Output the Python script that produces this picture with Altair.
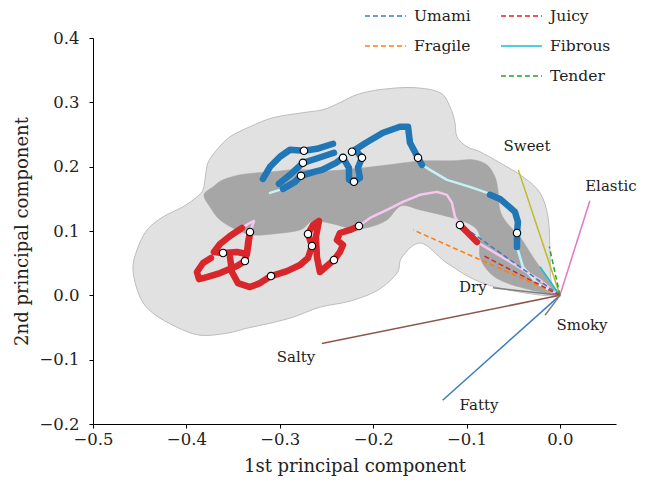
import altair as alt
import pandas as pd

# ---------------- data ----------------
# light grey cloud outline (PC1, PC2)
light_x = [-0.4572, -0.4529, -0.4422, -0.4251, -0.4037, -0.3887, -0.3822, -0.3801, -0.3769, -0.3673,
           -0.3533, -0.3319, -0.3073, -0.2752, -0.2538, -0.2356, -0.2174, -0.1927, -0.1574, -0.1285,
           -0.1178, -0.1124, -0.1103, -0.0996, -0.0857, -0.0642, -0.0396, -0.0214, -0.0128, -0.0107,
           -0.0096, -0.0032, -0.0428, -0.0857, -0.1210, -0.1488, -0.1692, -0.1745, -0.1949, -0.2248,
           -0.2570, -0.2859, -0.3105, -0.3351, -0.3565, -0.3854, -0.4101, -0.4358, -0.4497]
light_y = [0.0393, 0.0704, 0.1016, 0.1219, 0.1375, 0.1530, 0.1639, 0.1795, 0.2060, 0.2263,
           0.2465, 0.2621, 0.2761, 0.2839, 0.2886, 0.2995, 0.3120, 0.3198, 0.3229, 0.3151,
           0.2933, 0.2684, 0.2465, 0.2310, 0.2232, 0.2060, 0.1842, 0.1593, 0.1219, 0.0704,
           0.0237, 0.0003, 0.0050, 0.0206, 0.0502, 0.0813, 0.0595, 0.0346, 0.0081, -0.0090,
           -0.0184, -0.0340, -0.0433, -0.0511, -0.0589, -0.0620, -0.0496, -0.0277, -0.0028]

# dark grey band outline
dark_x = [-0.3812, -0.3747, -0.3640, -0.3458, -0.3287, -0.3073, -0.2784, -0.2645, -0.2430, -0.2216,
          -0.2034, -0.1852, -0.1702, -0.1499, -0.1146, -0.0932, -0.0857, -0.0857, -0.0749, -0.0567,
          -0.0214, -0.0021, -0.0043, -0.0139, -0.0289, -0.0428, -0.0567, -0.0642, -0.0664, -0.0696,
          -0.0782, -0.0932, -0.1146, -0.1467, -0.1745, -0.2109, -0.2463, -0.2720, -0.2891, -0.3073,
          -0.3244, -0.3426, -0.3608, -0.3715]
dark_y = [0.1562, 0.1375, 0.1172, 0.1016, 0.0938, 0.0954, 0.1016, 0.1156, 0.1110, 0.1032,
          0.1063, 0.1172, 0.1390, 0.1328, 0.1203, 0.1078, 0.0907, 0.0595, 0.0346, 0.0190,
          0.0050, 0.0003, 0.0081, 0.0284, 0.0595, 0.0907, 0.1125, 0.1328, 0.1639, 0.1842,
          0.2029, 0.2107, 0.2091, 0.2091, 0.2045, 0.1982, 0.1936, 0.1951, 0.1951, 0.1920,
          0.1904, 0.1873, 0.1795, 0.1686]

# blue trajectory (thick parts), segment id
blue_x = [-0.3180, -0.3105, -0.2998, -0.2891, -0.2741, -0.2602, -0.2430,
          -0.3009, -0.2891, -0.2752, -0.2613, -0.2420,
          -0.2966, -0.2837, -0.2773, -0.2634, -0.2548, -0.2398, -0.2323, -0.2259, -0.2259, -0.2206,
          -0.2141, -0.2163, -0.2120, -0.2173, -0.2227, -0.2077, -0.1895, -0.1713, -0.1627, -0.1606,
          -0.1520, -0.1478,
          -0.0749, -0.0642, -0.0567, -0.0482, -0.0450, -0.0460, -0.0460]
blue_y = [0.1811, 0.1998, 0.2154, 0.2263, 0.2247, 0.2278, 0.2356,
          0.1733, 0.1873, 0.2060, 0.2123, 0.2216,
          0.1655, 0.1764, 0.1858, 0.1920, 0.1951, 0.2060, 0.2138, 0.1982, 0.1795, 0.1764,
          0.1826, 0.1982, 0.2138, 0.2232, 0.2232, 0.2372, 0.2528, 0.2621, 0.2621, 0.2372,
          0.2138, 0.2029,
          0.1562, 0.1499, 0.1406, 0.1297, 0.1141, 0.0969, 0.0751]
blue_seg = [1] * 7 + [2] * 5 + [3] * 22 + [4] * 7

# thin light-cyan continuation of the blue trajectory
cyan_x = [-0.3105, -0.2966, -0.2773, -0.2548, -0.2398, -0.2323, -0.2227, -0.2077, -0.1895, -0.1713,
          -0.1627, -0.1606, -0.1520, -0.1478, -0.1392, -0.1210, -0.0964, -0.0749, -0.0642, -0.0567,
          -0.0482, -0.0450, -0.0460, -0.0460, -0.0396, -0.0246, -0.0032, 0.0]
cyan_y = [0.1593, 0.1655, 0.1858, 0.1951, 0.2060, 0.2138, 0.2232, 0.2372, 0.2528, 0.2621,
          0.2621, 0.2372, 0.2138, 0.2029, 0.1951, 0.1795, 0.1686, 0.1577, 0.1499, 0.1406,
          0.1297, 0.1141, 0.0969, 0.0751, 0.0439, 0.0190, 0.0019, 0.0]

# red trajectory (thick parts)
red_x = [-0.3405, -0.3533, -0.3640, -0.3705, -0.3608, -0.3458, -0.3351, -0.3340, -0.3319,
         -0.3319, -0.3340, -0.3373, -0.3458, -0.3640, -0.3780, -0.3865, -0.3887, -0.3822, -0.3737,
         -0.3533, -0.3512, -0.3448, -0.3319, -0.3212, -0.3094, -0.2923, -0.2784, -0.2698, -0.2655,
         -0.2698, -0.2645, -0.2580, -0.2613, -0.2602, -0.2570, -0.2484, -0.2420, -0.2356, -0.2323,
         -0.2388, -0.2356, -0.2248, -0.2152,
         -0.1071, -0.0985, -0.0889]
red_y = [0.1047, 0.0923, 0.0798, 0.0673, 0.0658, 0.0673, 0.0642, 0.0813, 0.0985,
         0.0985, 0.0751, 0.0533, 0.0455, 0.0346, 0.0284, 0.0252, 0.0362, 0.0502, 0.0580,
         0.0595, 0.0362, 0.0190, 0.0128, 0.0190, 0.0299, 0.0377, 0.0471, 0.0580, 0.0767,
         0.0954, 0.1094, 0.1156, 0.0907, 0.0595, 0.0362, 0.0471, 0.0549, 0.0673, 0.0782,
         0.0860, 0.0969, 0.1016, 0.1078,
         0.1094, 0.0969, 0.0829]
red_seg = [1] * 9 + [2] * 10 + [3] * 24 + [4] * 3

# thin pink continuation of the red trajectory
pink_x = [-0.3405, -0.3340, -0.3276, -0.3319,
          -0.2152, -0.2034, -0.1852, -0.1681, -0.1499, -0.1317, -0.1210, -0.1156, -0.1124, -0.1071,
          -0.0985, -0.0889, -0.0567, -0.0214, -0.0032, 0.0]
pink_y = [0.1047, 0.1110, 0.1156, 0.0985,
          0.1078, 0.1203, 0.1328, 0.1452, 0.1562, 0.1608, 0.1562, 0.1437, 0.1219, 0.1094,
          0.0969, 0.0829, 0.0549, 0.0237, 0.0019, 0.0]
pink_seg = [1] * 4 + [2] * 16

# sampled time points (white circles)
pts_x = [-0.2741, -0.2752, -0.2773, -0.2323, -0.2227, -0.2120, -0.2206, -0.1520, -0.0460,
         -0.3319, -0.3608, -0.3373, -0.3094, -0.2698, -0.2655, -0.2420, -0.2152, -0.1071]
pts_y = [0.2247, 0.2060, 0.1858, 0.2138, 0.2232, 0.2138, 0.1764, 0.2138, 0.0969,
         0.0985, 0.0658, 0.0533, 0.0299, 0.0954, 0.0767, 0.0549, 0.1078, 0.1094]

# loading vectors (end points; all start at the origin)
vec_names = ["Sweet", "Elastic", "Dry", "Salty", "Fatty", "Smoky", "Other",
             "Umami", "Fragile", "Juicy", "Fibrous", "Tender"]
vec_x = [-0.0446, 0.0320, -0.0717, -0.2550, -0.1256, -0.0160, -0.0080,
         -0.0985, -0.1570, -0.0830, -0.0214, -0.0114]
vec_y = [0.1950, 0.1470, 0.0117, -0.0750, -0.1630, -0.0310, 0.0030,
         0.1016, 0.1016, 0.0625, 0.0444, 0.0756]
vec_colors = ["#bcbd22", "#e377c2", "#7f7f7f", "#8c564b", "#3a7ebf", "#7f7f7f", "#9467bd",
              "#3a7ebf", "#ff7f0e", "#d62728", "#17becf", "#2ca02c"]
vec_dashed = [False, False, False, False, False, False, False,
              True, True, True, False, True]

# text labels of the loading vectors
lab_names = ["Sweet", "Elastic", "Dry", "Salty", "Fatty", "Smoky"]
lab_x = [-0.0353, 0.0546, -0.0932, -0.2827, -0.0867, 0.0236]
lab_y = [0.2325, 0.1702, 0.0128, -0.0963, -0.1711, -0.0464]

# legend
legend_labels = ["Umami", "Fragile", "Juicy", "Fibrous", "Tender"]
legend_colors = ["#3a7ebf", "#ff7f0e", "#d62728", "#17becf", "#2ca02c"]
legend_dashed = [True, True, True, False, True]
legend_col = [0, 0, 1, 1, 1]
legend_row = [0, 1, 0, 1, 2]

x_ticks = [-0.5, -0.4, -0.3, -0.2, -0.1, 0.0]
y_ticks = [-0.2, -0.1, 0.0, 0.1, 0.2, 0.3, 0.4]

# ---------------- chart ----------------
FONT = "DejaVu Serif"
W, H = 523, 386

xs = alt.Scale(domain=[-0.5, 0.06], nice=False, zero=False)
ys = alt.Scale(domain=[-0.2, 0.4], nice=False, zero=False)
X = alt.X("x:Q", scale=xs, axis=alt.Axis(values=x_ticks, format=".1f", title="1st principal component",
                                         tickSize=4, labelPadding=3, titlePadding=10,
                                         labelFlush=False))
Y = alt.Y("y:Q", scale=ys, axis=alt.Axis(values=y_ticks, format=".1f", title="2nd principal component",
                                         tickSize=4, labelPadding=10, titlePadding=7,
                                         labelFlush=False))


def path_df(px, py, seg=None):
    return pd.DataFrame({"x": px, "y": py, "i": list(range(len(px))),
                         "seg": seg if seg is not None else [0] * len(px)})


light = alt.Chart(path_df(light_x, light_y)).mark_line(
    fill="#e1e1e1", stroke="#bdbdbd", strokeWidth=1, interpolate="cardinal-closed"
).encode(x=X, y=Y, order=alt.Order("i:Q"))

dark = alt.Chart(path_df(dark_x, dark_y)).mark_line(
    fill="#a6a6a6", stroke="#a6a6a6", strokeWidth=0.5, interpolate="cardinal-closed"
).encode(x="x:Q", y="y:Q", order=alt.Order("i:Q"))

cyan = alt.Chart(path_df(cyan_x, cyan_y)).mark_line(
    color="#c4f2f6", strokeWidth=2.5, strokeCap="round", strokeJoin="round"
).encode(x="x:Q", y="y:Q", order=alt.Order("i:Q"))

pink = alt.Chart(path_df(pink_x, pink_y, pink_seg)).mark_line(
    color="#f6c8f0", strokeWidth=2.5, strokeCap="round", strokeJoin="round"
).encode(x="x:Q", y="y:Q", detail="seg:N", order=alt.Order("i:Q"))

vec_df = pd.DataFrame({"name": vec_names, "x0": [0.0] * len(vec_x), "y0": [0.0] * len(vec_x),
                       "x": vec_x, "y": vec_y, "color": vec_colors, "dashed": vec_dashed})
vec_solid = alt.Chart(vec_df).transform_filter("!datum.dashed").mark_rule(strokeWidth=1.5).encode(
    x="x0:Q", y="y0:Q", x2="x:Q", y2="y:Q", color=alt.Color("color:N", scale=None))
vec_dash = alt.Chart(vec_df).transform_filter("datum.dashed").mark_rule(
    strokeWidth=1.5, strokeDash=[5, 3]).encode(
    x="x0:Q", y="y0:Q", x2="x:Q", y2="y:Q", color=alt.Color("color:N", scale=None))

blue = alt.Chart(path_df(blue_x, blue_y, blue_seg)).mark_line(
    color="#2176b5", strokeWidth=6.5, strokeCap="round", strokeJoin="round"
).encode(x="x:Q", y="y:Q", detail="seg:N", order=alt.Order("i:Q"))

red = alt.Chart(path_df(red_x, red_y, red_seg)).mark_line(
    color="#d9262a", strokeWidth=6.5, strokeCap="round", strokeJoin="round"
).encode(x="x:Q", y="y:Q", detail="seg:N", order=alt.Order("i:Q"))

pts = alt.Chart(pd.DataFrame({"x": pts_x, "y": pts_y})).mark_point(
    shape="circle", filled=True, fill="white", stroke="black", strokeWidth=1.1, size=55, opacity=1
).encode(x="x:Q", y="y:Q")

labels = alt.Chart(pd.DataFrame({"x": lab_x, "y": lab_y, "t": lab_names})).mark_text(
    font=FONT, fontSize=15, color="#222222", align="center", baseline="middle"
).encode(x="x:Q", y="y:Q", text="t:N")

layers = [light, dark, cyan, pink, vec_solid, vec_dash, blue, red, pts, labels]

# legend (pixel layout relative to the plot area)
for lab, col, dashed, c, r in zip(legend_labels, legend_colors, legend_dashed, legend_col, legend_row):
    x0 = 272 + c * 136
    yy = -22 + r * 30
    base = alt.Chart(pd.DataFrame({"t": [lab]}))
    kw = dict(color=col, strokeWidth=1.6)
    if dashed:
        kw["strokeDash"] = [5, 3]
    layers.append(base.mark_rule(**kw).encode(x=alt.value(x0), x2=alt.value(x0 + 41), y=alt.value(yy)))
    layers.append(base.mark_text(font=FONT, fontSize=15.5, color="#222222", align="left",
                                 baseline="middle").encode(x=alt.value(x0 + 49), y=alt.value(yy), text="t:N"))

chart = alt.layer(*layers).properties(
    width=W, height=H,
    autosize=alt.AutoSizeParams(type="none"),
    padding={"left": 85, "top": 30, "right": 25, "bottom": 54},
).configure_view(stroke=None).configure_axis(
    grid=False, domainColor="black", tickColor="black", domainWidth=1, tickWidth=1,
    labelFont=FONT, labelFontSize=16.5, labelColor="#222222",
    titleFont=FONT, titleFontSize=18, titleFontWeight="normal", titleColor="#222222",
)

chart.save("out.html", embed_options={"renderer": "svg", "actions": False})
